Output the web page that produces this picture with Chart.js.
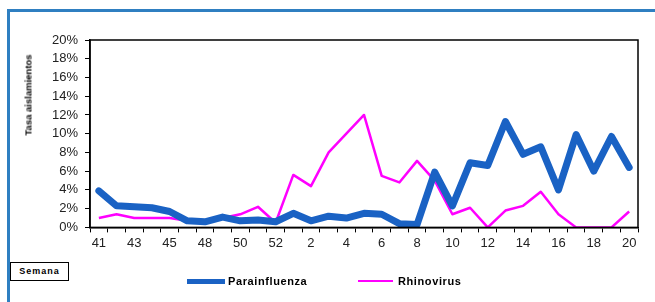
<!DOCTYPE html>
<html>
<head>
<meta charset="utf-8">
<script src="https://cdn.jsdelivr.net/npm/chart.js@4.4.0/dist/chart.umd.min.js"></script>
<style>
  body { margin: 0; background: #fff; font-family: 'Liberation Sans', Arial, sans-serif; }
  #wrap { position: relative; width: 655px; height: 302px; overflow: hidden; }
  #frame { position: absolute; left: 7px; top: 9px; width: 660px; height: 300px;
           border-top: 3px solid #2f7fc1; border-left: 3px solid #2f7fc1; }
  #myChart { position: absolute; left: 0; top: 0; }
  #ytitle { position: absolute; left: 28px; top: 95px; transform: translate(-50%, -50%) rotate(-90deg);
            font-weight: bold; font-size: 9.5px; white-space: nowrap; }
  #semana { position: absolute; left: 10px; top: 262px; width: 57px; height: 17px; border: 1px solid #000;
            background: #fff; font-weight: bold; font-size: 9px; letter-spacing: 1px; line-height: 17px; text-align: center; }
  .leg { position: absolute; top: 274px; height: 14px; display: flex; align-items: center;
         font-weight: bold; font-size: 11px; letter-spacing: 0.6px; }
  .leg .ln { display: inline-block; width: 38px; margin-right: 3px; }
</style>
</head>
<body>
<div id="wrap">
  <div id="frame"></div>
  <canvas id="myChart" width="655" height="302"></canvas>
  <div id="ytitle">Tasa aislamientos</div>
  <div id="semana">Semana</div>
  <div class="leg" style="left:187px"><span class="ln" style="height:5px;background:#1a62c4"></span>Parainfluenza</div>
  <div class="leg" style="left:358px"><span class="ln" style="height:2.5px;background:#ff00ff;width:35px;margin-right:5px"></span>Rhinovirus</div>
</div>
<script>
/****data*****/
const weeks = ['41', '42', '43', '44', '45', '46', '48', '49', '50', '51', '52',
  '1', '2', '3', '4', '5', '6', '7', '8', '9', '10', '11', '12', '13', '14', '15', '16', '17', '18', '19', '20'];
const parainfluenza = [3.9, 2.3, 2.2, 2.1, 1.7, 0.7, 0.6, 1.1, 0.7, 0.8, 0.6,
  1.5, 0.7, 1.2, 1.0, 1.5, 1.4, 0.4, 0.3, 5.9, 2.3, 6.9, 6.6, 11.3, 7.8, 8.6, 4.0, 9.9, 6.0, 9.7, 6.4];
const rhinovirus = [1.0, 1.4, 1.0, 1.0, 1.0, 0.7, 0.6, 1.0, 1.4, 2.2, 0.5,
  5.6, 4.4, 8.0, 10.0, 12.0, 5.5, 4.8, 7.1, 5.0, 1.4, 2.1, 0.0, 1.8, 2.3, 3.8, 1.4, 0.0, 0.0, 0.0, 1.7];
const yTicks = [0, 2, 4, 6, 8, 10, 12, 14, 16, 18, 20];
/*****************/

const tickFont = { family: "'Liberation Sans', Arial, sans-serif", size: 13 };

// black box round the plot area
const plotBorder = {
  id: 'plotBorder',
  afterDraw(chart) {
    const { ctx, chartArea: a } = chart;
    ctx.save();
    ctx.strokeStyle = '#000';
    ctx.lineWidth = 1.5;
    ctx.strokeRect(a.left, a.top, a.right - a.left, a.bottom - a.top);
    ctx.restore();
  }
};

const config = {
  type: 'line',
  data: {
    labels: weeks,
    datasets: [{
      label: 'Parainfluenza',
      data: parainfluenza,
      borderColor: '#1a62c4',
      borderWidth: 7,
      borderJoinStyle: 'round',
      borderCapStyle: 'round',
      pointRadius: 0,
      tension: 0,
    },
    {
      label: 'Rhinovirus',
      data: rhinovirus,
      borderColor: '#ff00ff',
      borderWidth: 2.5,
      borderJoinStyle: 'round',
      pointRadius: 0,
      tension: 0,
    }]
  },
  options: {
    responsive: false,
    animation: false,
    devicePixelRatio: 1,
    layout: { padding: { left: 45, right: 17, top: 40, bottom: 48 } },
    plugins: {
      legend: { display: false },
      tooltip: { enabled: false },
    },
    scales: {
      x: {
        offset: true,
        grid: { offset: true, drawOnChartArea: false, color: '#000', tickLength: 5, lineWidth: 1 },
        border: { color: '#000', width: 1.5 },
        ticks: {
          autoSkip: false, maxRotation: 0, padding: 3, color: '#222', font: tickFont,
          callback: (v, i) => (i % 2 === 0 ? weeks[i] : '')
        }
      },
      y: {
        min: yTicks[0],
        max: yTicks[yTicks.length - 1],
        afterBuildTicks: (axis) => { axis.ticks = yTicks.map(v => ({ value: v })); },
        grid: { drawOnChartArea: false, color: '#000', tickLength: 5 },
        border: { color: '#000', width: 1.5 },
        ticks: { padding: 7, color: '#222', font: tickFont, callback: v => v + '%' }
      }
    }
  },
  plugins: [plotBorder]
};

var myChart = new Chart(document.getElementById('myChart'), config);
</script>
</body>
</html>
